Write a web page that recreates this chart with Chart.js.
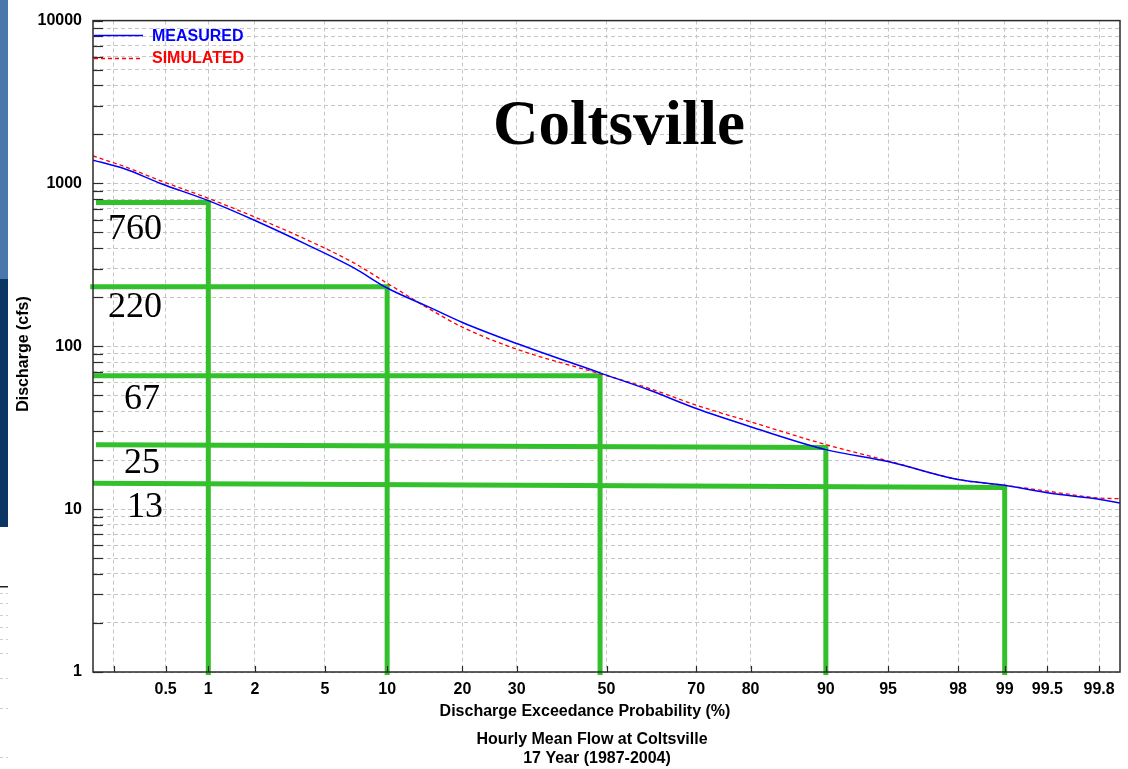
<!DOCTYPE html>
<html><head><meta charset="utf-8">
<script src="https://cdn.jsdelivr.net/npm/chart.js@4.4.1/dist/chart.umd.min.js"></script>
<style>html,body{margin:0;padding:0;background:#fff;overflow:hidden}#wrap{width:1128px;height:769px;position:relative}</style>
</head><body><div id="wrap"><canvas id="c" width="1128" height="769"></canvas></div>
<script>
// ---- data (exceedance probability in %, discharge in cfs) ----
const exceedanceProb = [0.135, 0.24, 0.46, 1, 2, 4, 7, 10, 15, 20, 30, 48.5, 60, 70, 80, 90, 95, 98, 99, 99.5, 99.8, 99.865];
const measured  = [1390, 1234, 1000, 784, 592, 421, 303, 228, 174, 140, 104, 68.7, 53.7, 41.5, 32.1, 23.2, 19.6, 15.2, 14.0, 12.6, 11.5, 10.9];
const simulated = [1475, 1275, 1038, 810, 621, 451, 325, 244, 170, 131, 96, 67.8, 55, 43.5, 34.4, 24.9, 19.8, 15.2, 14.0, 12.9, 11.7, 11.6];

const xTickProb   = [0.2, 0.5, 1, 2, 5, 10, 20, 30, 50, 70, 80, 90, 95, 98, 99, 99.5, 99.8];
const xTickLabels = ['', '0.5', '1', '2', '5', '10', '20', '30', '50', '70', '80', '90', '95', '98', '99', '99.5', '99.8'];
const yTickValues = [1,2,3,4,5,6,7,8,9,10,20,30,40,50,60,70,80,90,100,200,300,400,500,600,700,800,900,1000,2000,3000,4000,5000,6000,7000,8000,9000,10000];
const yMajorValues = [1, 10, 100, 1000, 10000];
const yMajorLabels = ['1', '10', '100', '1000', '10000'];

// green reading lines
const markerProb       = [1, 10, 48.5, 90, 99];
const markerStartProb  = [0.143, 0.128, 0.135, 0.143, 0.135];
const markerLevelLeft  = [765, 232, 65.9, 24.9, 14.4];
const markerLevelRight = [765, 232, 65.9, 23.9, 13.6];
const markerLabels     = ['760', '220', '67', '25', '13'];

// ---- normal-probability axis transform ----
function probit(p){
  const a=[-3.969683028665376e+01,2.209460984245205e+02,-2.759285104469687e+02,1.383577518672690e+02,-3.066479806614716e+01,2.506628277459239e+00];
  const b=[-5.447609879822406e+01,1.615858368580409e+02,-1.556989798598866e+02,6.680131188771972e+01,-1.328068155288572e+01];
  const c=[-7.784894002430293e-03,-3.223964580411365e-01,-2.400758277161838e+00,-2.549732539343734e+00,4.374664141464968e+00,2.938163982698783e+00];
  const d=[7.784695709041462e-03,3.224671290700398e-01,2.445134137142996e+00,3.754408661907416e+00];
  const pl=0.02425, ph=1-pl; let q,r;
  if(p<pl){q=Math.sqrt(-2*Math.log(p));return (((((c[0]*q+c[1])*q+c[2])*q+c[3])*q+c[4])*q+c[5])/((((d[0]*q+d[1])*q+d[2])*q+d[3])*q+1);}
  if(p<=ph){q=p-0.5;r=q*q;return (((((a[0]*r+a[1])*r+a[2])*r+a[3])*r+a[4])*r+a[5])*q/(((((b[0]*r+b[1])*r+b[2])*r+b[3])*r+b[4])*r+1);}
  q=Math.sqrt(-2*Math.log(1-p));return -(((((c[0]*q+c[1])*q+c[2])*q+c[3])*q+c[4])*q+c[5])/((((d[0]*q+d[1])*q+d[2])*q+d[3])*q+1);
}
const zOf = pct => probit(pct/100);

const GREEN = '#33c02c';
const datasets = [
  {label:'MEASURED', data: exceedanceProb.map((p,i)=>({x:zOf(p), y:measured[i]})),
   borderColor:'#0000ff', borderWidth:1.5, pointRadius:0, order:0, cubicInterpolationMode:'monotone'},
  {label:'SIMULATED', data: exceedanceProb.map((p,i)=>({x:zOf(p), y:simulated[i]})),
   borderColor:'#ff0000', borderWidth:1.3, borderDash:[4,3], pointRadius:0, order:1, cubicInterpolationMode:'monotone'}
];
markerProb.forEach((p,i)=>{
  datasets.push({label:'m'+i, data:[{x:zOf(markerStartProb[i]), y:markerLevelLeft[i]},{x:zOf(p), y:markerLevelRight[i]},{x:zOf(p), y:0.96}],
    borderColor:GREEN, borderWidth:5, pointRadius:0, order:2, clip:false, borderJoinStyle:'miter', borderCapStyle:'butt'});
});

const SANS = '"Liberation Sans", Arial, sans-serif';
const SERIF = '"Liberation Serif", "Times New Roman", serif';

const decor = {
  id:'decor',
  beforeDraw(chart){
    const ctx = chart.ctx;
    ctx.save();
    ctx.fillStyle='#fff'; ctx.fillRect(0,0,chart.width,chart.height);
    // slide remnants at far left
    ctx.fillStyle='#4a78ac'; ctx.fillRect(0,0,8,279);
    ctx.fillStyle='#0b3563'; ctx.fillRect(0,279,8,248);
    ctx.fillStyle='#222'; ctx.fillRect(0,586,8,1.5);
    ctx.strokeStyle='#cfcfcf'; ctx.lineWidth=1; ctx.setLineDash([3,3]);
    [593,603,615,627,639,653,678,708,757].forEach(y=>{ctx.beginPath();ctx.moveTo(0,y+0.5);ctx.lineTo(8,y+0.5);ctx.stroke();});
    ctx.restore();
  },
  afterDatasetsDraw(chart){
    const {ctx, chartArea:ca, scales:{x,y}} = chart;
    ctx.save();
    // frame
    ctx.strokeStyle='#2a2a2a'; ctx.lineWidth=1.5;
    ctx.strokeRect(ca.left, ca.top, ca.right-ca.left, ca.bottom-ca.top);
    // inner tick marks
    ctx.lineWidth=1.2;
    yTickValues.forEach(v=>{const py=Math.round(y.getPixelForValue(v))+0.5; ctx.beginPath(); ctx.moveTo(ca.left,py); ctx.lineTo(ca.left+10,py); ctx.stroke();});
    xTickProb.forEach(p=>{const px=Math.round(x.getPixelForValue(zOf(p)))+0.5; ctx.beginPath(); ctx.moveTo(px,ca.bottom); ctx.lineTo(px,ca.bottom-6); ctx.stroke();});
    // legend
    const ds = chart.data.datasets;
    ctx.lineWidth=1.5; ctx.strokeStyle=ds[0].borderColor; ctx.setLineDash([]);
    ctx.beginPath(); ctx.moveTo(ca.left+1,35.5); ctx.lineTo(143,35.5); ctx.stroke();
    ctx.strokeStyle=ds[1].borderColor; ctx.lineWidth=1.3; ctx.setLineDash([4,3]);
    ctx.beginPath(); ctx.moveTo(ca.left+1,58.5); ctx.lineTo(143,58.5); ctx.stroke();
    ctx.setLineDash([]);
    ctx.font='bold 16px '+SANS; ctx.textBaseline='middle'; ctx.textAlign='left';
    ctx.fillStyle=ds[0].borderColor; ctx.fillText(ds[0].label,152,36.5);
    ctx.fillStyle=ds[1].borderColor; ctx.fillText(ds[1].label,152,59);
    // title
    ctx.fillStyle='#000'; ctx.textBaseline='alphabetic';
    ctx.font='bold 63px '+SERIF; ctx.fillText('Coltsville',493,144);
    // marker labels
    ctx.font='36px '+SERIF;
    const lblPos=[[108,239],[108,317],[124,409],[124,473],[127,517]];
    markerLabels.forEach((t,i)=>ctx.fillText(t,lblPos[i][0],lblPos[i][1]));
    // axis titles
    ctx.font='bold 16px '+SANS; ctx.textAlign='center'; ctx.textBaseline='middle';
    ctx.fillText('Discharge Exceedance Probability (%)',585,712);
    ctx.fillText('Hourly Mean Flow at Coltsville',592,740);
    ctx.fillText('17 Year (1987-2004)',597,759);
    ctx.save(); ctx.translate(24,354); ctx.rotate(-Math.PI/2);
    ctx.fillText('Discharge (cfs)',0,0); ctx.restore();
    ctx.restore();
  }
};

new Chart(document.getElementById('c'), {
  type:'line',
  data:{datasets},
  options:{
    responsive:false, animation:false, devicePixelRatio:1,
    layout:{padding:{top:16,right:8,left:0,bottom:0}},
    plugins:{legend:{display:false}, tooltip:{enabled:false}},
    elements:{line:{tension:0}},
    scales:{
      x:{type:'linear', min:-3, max:3,
        afterBuildTicks:s=>{s.ticks = xTickProb.map(p=>({value:zOf(p)}));},
        afterFit:s=>{s.height=97;},
        ticks:{autoSkip:false, maxRotation:0, minRotation:0, padding:8, color:'#000',
          font:{family:SANS, weight:'bold', size:16}, callback:(v,i)=>xTickLabels[i]},
        grid:{color:'#c6c6c6', lineWidth:1, drawTicks:false},
        border:{display:false, dash:[4,3]}},
      y:{type:'logarithmic', min:1, max:10000,
        afterBuildTicks:s=>{s.ticks = yTickValues.map(v=>({value:v}));},
        afterFit:s=>{s.width=93;},
        ticks:{autoSkip:false, padding:11, color:'#000', font:{family:SANS, weight:'bold', size:16},
          callback:(v)=>{const k=yMajorValues.indexOf(v); return k>=0?yMajorLabels[k]:'';}},
        grid:{color:'#c6c6c6', lineWidth:1, drawTicks:false},
        border:{display:false, dash:[4,3]}}
    }
  },
  plugins:[decor]
});
</script></body></html>
